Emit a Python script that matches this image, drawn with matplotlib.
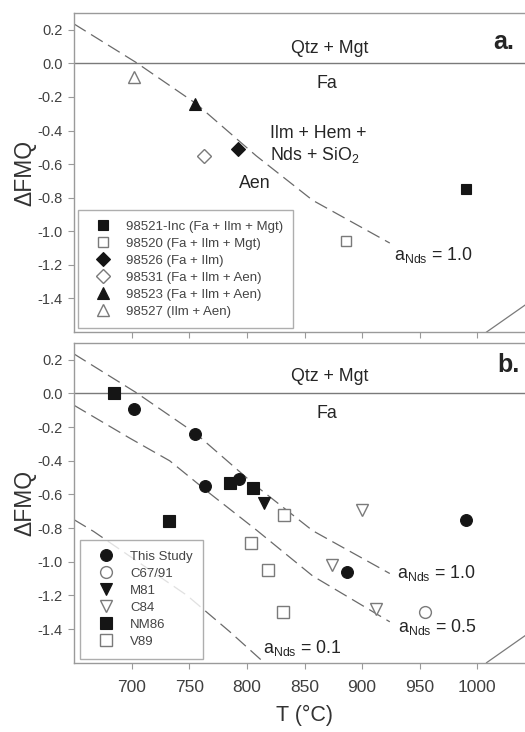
import matplotlib
matplotlib.use("Agg")
import matplotlib.pyplot as plt
from matplotlib.lines import Line2D

plt.rcParams['font.family'] = ['Liberation Sans', 'DejaVu Sans']
plt.rcParams['mathtext.fontset'] = 'custom'
plt.rcParams['mathtext.rm'] = 'Liberation Sans'
plt.rcParams['mathtext.it'] = 'Liberation Sans:italic'

# ---- Panel a data ----
a_labels = ['98521-Inc (Fa + Ilm + Mgt)', '98520 (Fa + Ilm + Mgt)', '98526 (Fa + Ilm)',
            '98531 (Fa + Ilm + Aen)', '98523 (Fa + Ilm + Aen)', '98527 (Ilm + Aen)']
a_T = [990, 886, 792, 763, 755, 702]
a_dfmq = [-0.75, -1.06, -0.51, -0.55, -0.24, -0.08]
a_markers = ['s', 's', 'D', 'D', '^', '^']
a_filled = [True, False, True, False, True, False]

# ---- Panel b data ----
b_labels = ['This Study', 'C67/91', 'M81', 'C84', 'NM86', 'V89']
b_markers = ['o', 'o', 'v', 'v', 's', 's']
b_filled = [True, False, True, False, True, False]
b_T = [
    [702, 755, 764, 793, 887, 990],
    [955],
    [815],
    [900, 874, 912],
    [685, 732, 785, 805],
    [832, 804, 818, 831],
]
b_dfmq = [
    [-0.09, -0.24, -0.55, -0.51, -1.06, -0.75],
    [-1.30],
    [-0.65],
    [-0.69, -1.02, -1.28],
    [0.0, -0.76, -0.53, -0.56],
    [-0.72, -0.89, -1.05, -1.30],
]

# ---- Buffer curves ----
nds10_T = [650, 704, 756, 808, 857, 924]
nds10_y = [0.235, 0.005, -0.24, -0.55, -0.815, -1.07]
nds05_T = [650, 698, 733, 768, 808, 857, 924]
nds05_y = [-0.07, -0.264, -0.40, -0.595, -0.81, -1.084, -1.357]
nds01_T = [650, 667, 748, 785, 815]
nds01_y = [-0.75, -0.82, -1.20, -1.415, -1.60]
solid_T = [1008, 1060]
solid_y = [-1.60, -1.35]

xticks = [700, 750, 800, 850, 900, 950, 1000]
yticks = [0.2, 0.0, -0.2, -0.4, -0.6, -0.8, -1.0, -1.2, -1.4]

BLACK = '#151515'
GRAY = '#7a7a7a'
SPINE = '#9a9a9a'
TXT = '#252525'
DASH = '#6a6a6a'
ANN = 12.8

fig = plt.figure(figsize=(5.25, 7.32), dpi=100)
ax_a = fig.add_axes([0.141, 0.5464, 0.878, 0.4358])
ax_b = fig.add_axes([0.141, 0.0947, 0.878, 0.4367])


def style(ax, show_xlabels):
    ax.set_xlim(650, 1050)
    ax.set_ylim(-1.6, 0.3)
    ax.set_xticks(xticks)
    ax.set_yticks(yticks)
    ax.set_yticklabels([f'{v:.1f}' for v in yticks])
    for s in ax.spines.values():
        s.set_color(SPINE)
        s.set_linewidth(1.0)
    ax.tick_params(axis='y', direction='out', length=4, width=0.8, color=SPINE,
                   labelsize=10.5, labelcolor='#404040', pad=4)
    ax.tick_params(axis='x', direction='out', length=4, width=0.8, color=SPINE,
                   labelsize=12.5, labelcolor='#404040', pad=8.5)
    if not show_xlabels:
        ax.set_xticklabels([])
    ax.set_ylabel('ΔFMQ', fontsize=16.5, color='#333333', labelpad=1)
    ax.axhline(0, color=GRAY, lw=1.0, zorder=1)
    ax.plot(solid_T, solid_y, color=GRAY, lw=0.9, zorder=1)


def mk(ax, x, y, m, filled, size):
    if filled:
        ax.plot(x, y, ls='none', marker=m, ms=size, mfc=BLACK, mec=BLACK, mew=0.8, zorder=3)
    else:
        ax.plot(x, y, ls='none', marker=m, ms=size, mfc='white', mec=GRAY, mew=1.0, zorder=3)


def handle(m, filled, size):
    if filled:
        return Line2D([], [], ls='none', marker=m, ms=size, mfc=BLACK, mec=BLACK, mew=0.8)
    return Line2D([], [], ls='none', marker=m, ms=size, mfc='white', mec=GRAY, mew=1.0)


dash_kw = dict(color=DASH, lw=0.9, dashes=(11, 5), zorder=2)
leg_kw = dict(loc='lower left', fontsize=9.5, frameon=True, fancybox=False,
              handletextpad=0.6, labelspacing=0.36, borderpad=0.8,
              borderaxespad=0, labelcolor='#444444')

# ---- Panel a ----
style(ax_a, False)
ax_a.plot(nds10_T, nds10_y, **dash_kw)
sizes_a = {'s': 7.5, 'D': 7.5, '^': 8.5}
for x, y, m, f in zip(a_T, a_dfmq, a_markers, a_filled):
    mk(ax_a, x, y, m, f, sizes_a[m])
ax_a.text(872, 0.09, 'Qtz + Mgt', fontsize=ANN, color=TXT, ha='center', va='center')
ax_a.text(869, -0.12, 'Fa', fontsize=ANN, color=TXT, ha='center', va='center')
ax_a.text(820, -0.415, 'Ilm + Hem +', fontsize=ANN, color=TXT, ha='left', va='center')
ax_a.text(820, -0.545, 'Nds + SiO$_2$', fontsize=ANN, color=TXT, ha='left', va='center')
ax_a.text(807, -0.715, 'Aen', fontsize=ANN, color=TXT, ha='center', va='center')
ax_a.text(928, -1.14, 'a$_{\\mathrm{Nds}}$ = 1.0', fontsize=ANN, color=TXT, ha='left', va='center')
ax_a.text(1014, 0.13, 'a.', fontsize=18, fontweight='bold', color=TXT, ha='left', va='center')
hs = [handle(m, f, sizes_a[m]) for m, f in zip(a_markers, a_filled)]
leg = ax_a.legend(hs, a_labels, bbox_to_anchor=(0.009, 0.012), handlelength=2.2, **leg_kw)
leg.get_frame().set_edgecolor(SPINE)
leg.get_frame().set_linewidth(1.0)

# ---- Panel b ----
style(ax_b, True)
ax_b.plot(nds10_T, nds10_y, **dash_kw)
ax_b.plot(nds05_T, nds05_y, **dash_kw)
ax_b.plot(nds01_T, nds01_y, **dash_kw)
sizes_b = {'o': 8.5, 's': 8.0, 'v': 8.5}
for xs, ys, m, f in zip(b_T, b_dfmq, b_markers, b_filled):
    mk(ax_b, xs, ys, m, f, sizes_b[m])
ax_b.text(872, 0.10, 'Qtz + Mgt', fontsize=ANN, color=TXT, ha='center', va='center')
ax_b.text(869, -0.12, 'Fa', fontsize=ANN, color=TXT, ha='center', va='center')
ax_b.text(930, -1.065, 'a$_{\\mathrm{Nds}}$ = 1.0', fontsize=ANN, color=TXT, ha='left', va='center')
ax_b.text(931, -1.385, 'a$_{\\mathrm{Nds}}$ = 0.5', fontsize=ANN, color=TXT, ha='left', va='center')
ax_b.text(814, -1.51, 'a$_{\\mathrm{Nds}}$ = 0.1', fontsize=ANN, color=TXT, ha='left', va='center')
ax_b.text(1017, 0.17, 'b.', fontsize=18, fontweight='bold', color=TXT, ha='left', va='center')
ax_b.set_xlabel('T (°C)', fontsize=15.5, color='#333333', labelpad=7)
hs = [handle(m, f, sizes_b[m]) for m, f in zip(b_markers, b_filled)]
leg = ax_b.legend(hs, b_labels, bbox_to_anchor=(0.013, 0.013), handlelength=2.4, **leg_kw)
leg.get_frame().set_edgecolor(SPINE)
leg.get_frame().set_linewidth(1.0)

fig.savefig('out.png', dpi=100)
